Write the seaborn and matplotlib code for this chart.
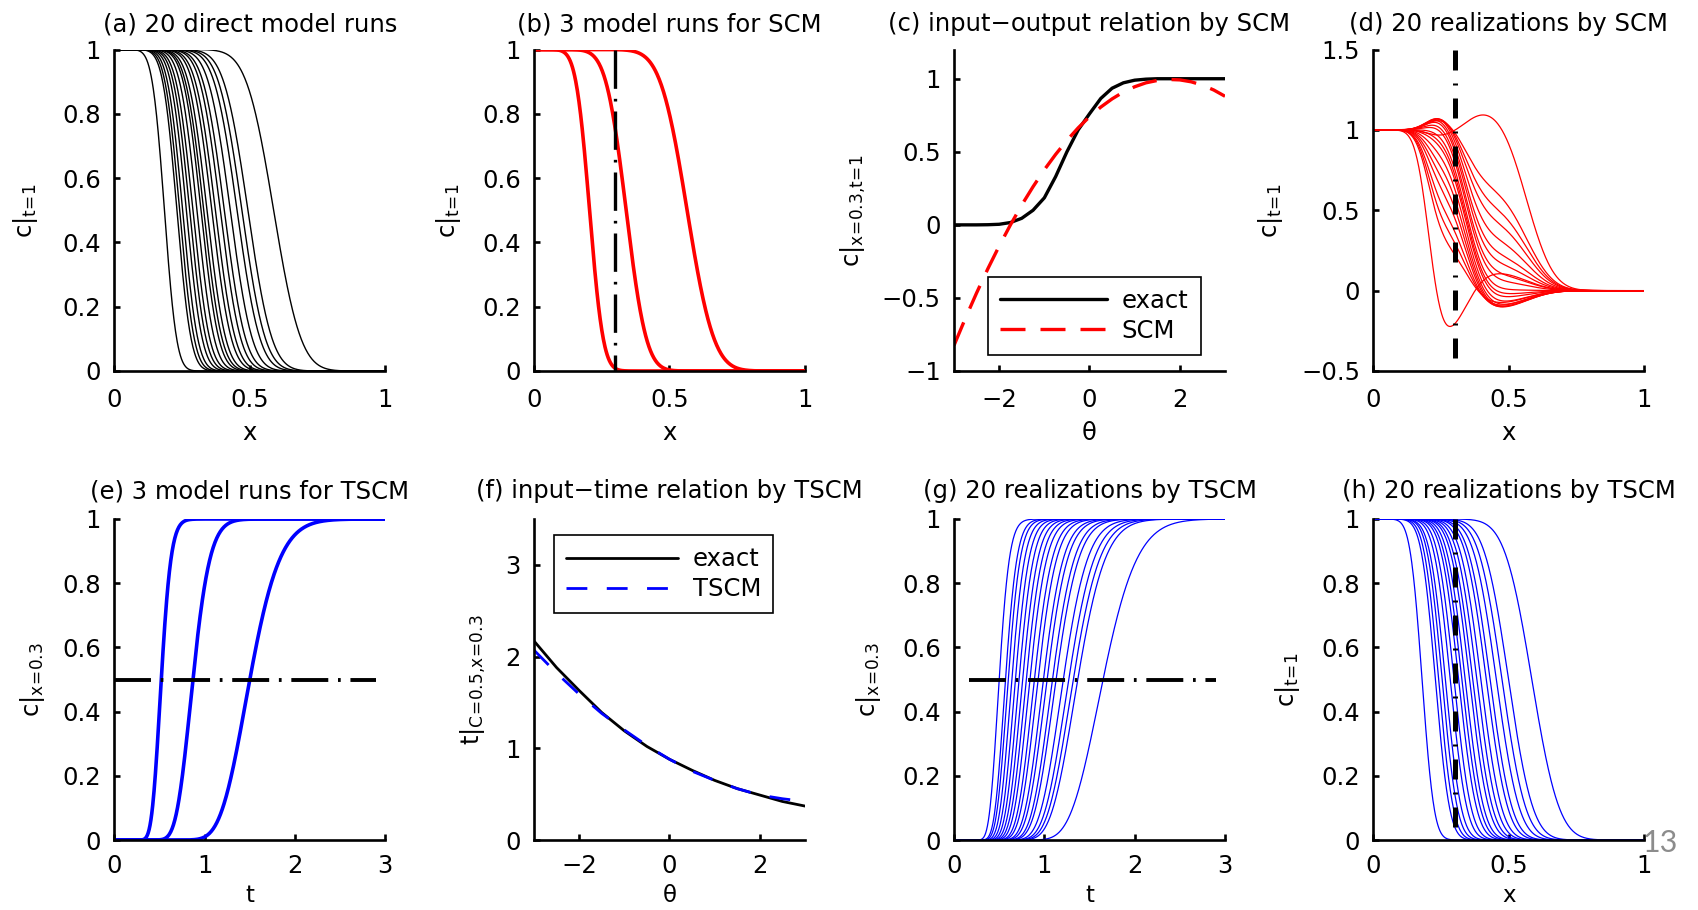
import math
import numpy as np
import pandas as pd
import matplotlib
matplotlib.use("Agg")
import matplotlib.pyplot as plt
import seaborn as sns

# ------------------------------------------------------------------
# Data
# ------------------------------------------------------------------
# (a) 20 direct model runs: front position (c=0.5) at t=1 and front spread
a_mid = [0.185, 0.231, 0.241, 0.252, 0.266, 0.278, 0.290, 0.305, 0.320, 0.330,
         0.342, 0.360, 0.373, 0.391, 0.406, 0.428, 0.453, 0.471, 0.493, 0.588]
a_width = [0.050, 0.058, 0.060, 0.062, 0.065, 0.067, 0.069, 0.071, 0.073, 0.075,
           0.077, 0.080, 0.082, 0.084, 0.087, 0.090, 0.094, 0.096, 0.099, 0.112]

# (b) 3 model runs for SCM
b_mid = [0.205, 0.340, 0.565]
b_width = [0.056, 0.083, 0.110]

# (c) input-output relation
theta_c = [-3.0, -2.75, -2.5, -2.25, -2.0, -1.75, -1.5, -1.25, -1.0, -0.75, -0.5,
           -0.25, 0.0, 0.25, 0.5, 0.75, 1.0, 1.25, 1.5, 1.75, 2.0, 2.25, 2.5,
           2.75, 3.0]
c_exact = [0.0, 0.0, 0.0, 0.001, 0.004, 0.016, 0.045, 0.10, 0.185, 0.33, 0.50,
           0.65, 0.76, 0.865, 0.935, 0.972, 0.99, 0.997, 1.0, 1.0, 1.0, 1.0,
           1.0, 1.0, 1.0]
c_scm = [-0.825, -0.641, -0.466, -0.300, -0.145, 0.000, 0.136, 0.261, 0.377,
         0.482, 0.578, 0.664, 0.740, 0.806, 0.862, 0.909, 0.945, 0.972, 0.988,
         0.995, 0.992, 0.979, 0.956, 0.923, 0.880]

# (d) 20 SCM realizations: weights of the three runs of panel (b)
d_w1 = [1.331, 0.679, 0.573, 0.474, 0.360, 0.279, 0.204, 0.130, 0.064, 0.031,
        -0.006, -0.051, -0.075, -0.101, -0.115, -0.124, -0.122, -0.113, -0.095, 0.050]
d_w2 = [-0.456, 0.410, 0.536, 0.646, 0.765, 0.841, 0.903, 0.954, 0.987, 0.997,
        1.000, 0.987, 0.966, 0.920, 0.872, 0.787, 0.673, 0.574, 0.445, -0.191]
d_w3 = [0.125, -0.089, -0.109, -0.121, -0.125, -0.120, -0.107, -0.084, -0.051, -0.027,
        0.006, 0.064, 0.109, 0.181, 0.243, 0.338, 0.449, 0.539, 0.650, 1.141]

# (e) 3 model runs for TSCM: arrival time (c=0.5) at x=0.3 and spread
e_mid = [0.52, 0.87, 1.50]
e_width = [0.12, 0.21, 0.37]

# (f) input-time relation
theta_f = [-3.0, -2.5, -2.0, -1.5, -1.0, -0.5, 0.0, 0.5, 1.0, 1.5, 2.0, 2.5, 3.0]
f_exact = [2.17, 1.88, 1.63, 1.39, 1.19, 1.02, 0.88, 0.76, 0.65, 0.56, 0.49, 0.42, 0.37]
f_tscm = [2.07, 1.82, 1.59, 1.38, 1.20, 1.03, 0.88, 0.75, 0.65, 0.56, 0.49, 0.45, 0.42]

# (g) 20 TSCM realizations at x=0.3
g_mid = [0.50, 0.57, 0.60, 0.64, 0.68, 0.72, 0.76, 0.80, 0.84, 0.89,
         0.93, 0.99, 1.03, 1.09, 1.13, 1.21, 1.27, 1.32, 1.37, 1.65]
g_width = [0.125, 0.140, 0.148, 0.158, 0.167, 0.177, 0.187, 0.197, 0.207, 0.219,
           0.229, 0.244, 0.253, 0.268, 0.278, 0.298, 0.312, 0.325, 0.337, 0.415]

# (h) 20 TSCM realizations at t=1
h_mid = [0.180, 0.229, 0.241, 0.254, 0.266, 0.284, 0.298, 0.315, 0.327, 0.339,
         0.355, 0.367, 0.382, 0.397, 0.417, 0.431, 0.454, 0.475, 0.499, 0.585]
h_width = [0.049, 0.058, 0.060, 0.062, 0.065, 0.068, 0.070, 0.073, 0.075, 0.076,
           0.079, 0.081, 0.083, 0.085, 0.088, 0.090, 0.094, 0.097, 0.100, 0.112]

# axis ticks / labels
x01_ticks = [0, 0.5, 1]
x01_labels = ["0", "0.5", "1"]
y01_ticks = [0, 0.2, 0.4, 0.6, 0.8, 1]
y01_labels = ["0", "0.2", "0.4", "0.6", "0.8", "1"]
t_ticks = [0, 1, 2, 3]
t_labels = ["0", "1", "2", "3"]
th_ticks = [-2, 0, 2]
th_labels = ["\u22122", "0", "2"]
yc_ticks = [-1, -0.5, 0, 0.5, 1]
yc_labels = ["\u22121", "\u22120.5", "0", "0.5", "1"]
yd_ticks = [-0.5, 0, 0.5, 1, 1.5]
yd_labels = ["\u22120.5", "0", "0.5", "1", "1.5"]
yf_ticks = [0, 1, 2, 3]
yf_labels = ["0", "1", "2", "3"]

titles = ["(a) 20 direct model runs", "(b) 3 model runs for SCM",
          "(c) input\u2212output relation by SCM", "(d) 20 realizations by SCM",
          "(e) 3 model runs for TSCM", "(f) input\u2212time relation by TSCM",
          "(g) 20 realizations by TSCM", "(h) 20 realizations by TSCM"]

lab_ct1 = r"c$|_{t\!=\!1}$"
lab_cx = r"c$|_{x\!=\!0.3}$"
lab_cxt = r"c$|_{x\!=\!0.3{,}t\!=\!1}$"
lab_tcx = r"t$|_{C\!=\!0.5{,}x\!=\!0.3}$"

# ------------------------------------------------------------------
sns.set_theme(style="ticks")
plt.rcParams["font.family"] = ["DejaVu Sans"]
plt.rcParams["mathtext.default"] = "regular"
FS = 17.5

_erfc = np.vectorize(math.erfc)


def front_x(x, m, s):
    return 0.5 * _erfc((x - m) / s)


def front_t(t, m, s):
    tt = np.maximum(t, 1e-9)
    return 0.5 * _erfc((m - tt) / (s * np.sqrt(tt / m)))


xg = np.linspace(0, 1, 501)
tg = np.linspace(0, 3, 601)

fig = plt.figure(figsize=(16.99, 9.10), dpi=100)
W, H = 1699.0, 910.0
lefts = [114.3, 534.0, 954.0, 1373.3]
aw = 271.0
rows = [(49.5, 371.0), (519.0, 840.0)]


def make_ax(col, row):
    top, bot = rows[row]
    return fig.add_axes([lefts[col] / W, 1 - bot / H, aw / W, (bot - top) / H])


def style(ax, xlim, ylim, xt, xl, yt, yl, title, xlabel, ylabel, ylab_x, row):
    ax.set_xlim(*xlim)
    ax.set_ylim(*ylim)
    ax.set_xticks(xt)
    ax.set_xticklabels(xl)
    ax.set_yticks(yt)
    ax.set_yticklabels(yl)
    for s in ["top", "right"]:
        ax.spines[s].set_visible(False)
    for s in ["left", "bottom"]:
        ax.spines[s].set_linewidth(1.9)
        ax.spines[s].set_color("black")
    ax.tick_params(axis="both", direction="in", length=4, width=1.9,
                   labelsize=FS, colors="black")
    ax.tick_params(axis="x", pad=12.5 if row == 0 else 10.0)
    ax.tick_params(axis="y", pad=9.5)
    ax.set_title(title, fontsize=FS, color="black", pad=13.3 if row == 0 else 15.0)
    if row == 0:
        ax.set_xlabel(xlabel, fontsize=FS, color="black")
        ax.xaxis.set_label_coords(0.5, -0.156)
    else:
        ax.set_xlabel(xlabel, fontsize=16.5, color="black")
        ax.xaxis.set_label_coords(0.5, -0.136)
    ax.set_ylabel(ylabel, fontsize=FS, color="black")
    ax.yaxis.set_label_coords(ylab_x, 0.5)
    ax.set_facecolor("white")


def family_df(grid, name, mids, widths, func):
    frames = []
    for i, (m, s) in enumerate(zip(mids, widths)):
        frames.append(pd.DataFrame({name: grid, "c": func(grid, m, s), "run": i}))
    return pd.concat(frames, ignore_index=True)


# ---------------- (a) ----------------
ax = make_ax(0, 0)
df = family_df(xg, "x", a_mid, a_width, front_x)
sns.lineplot(data=df, x="x", y="c", units="run", estimator=None, color="black",
             linewidth=1.0, legend=False, ax=ax)
style(ax, (0, 1), (0, 1), x01_ticks, x01_labels, y01_ticks, y01_labels,
      titles[0], "x", lab_ct1, -0.275, 0)

# ---------------- (b) ----------------
ax = make_ax(1, 0)
b_curves = []
for m, s in zip(b_mid, b_width):
    y = front_x(xg, m, s)
    b_curves.append(y)
    sns.lineplot(x=xg, y=y, color="red", linewidth=2.6, ax=ax)
ax.plot([0.3, 0.3], [1, 0], color="black", linewidth=2.4,
        linestyle=(0, (11.5, 3, 0.8, 3)))
style(ax, (0, 1), (0, 1), x01_ticks, x01_labels, y01_ticks, y01_labels,
      titles[1], "x", lab_ct1, -0.262, 0)

# ---------------- (c) ----------------
ax = make_ax(2, 0)
sns.lineplot(x=theta_c, y=c_exact, color="black", linewidth=2.4, label="exact", ax=ax)
sns.lineplot(x=theta_c, y=c_scm, color="red", linewidth=2.4, label="SCM",
             linestyle=(0, (7.5, 4.5)), ax=ax)
style(ax, (-3, 3), (-1, 1.2), th_ticks, th_labels, yc_ticks, yc_labels,
      titles[2], "\u03b8", lab_cxt, -0.317, 0)
leg = ax.legend(loc="lower left", bbox_to_anchor=(0.126, 0.05), borderaxespad=0,
                fontsize=FS, handlelength=4.4, handletextpad=0.6, borderpad=0.5,
                labelspacing=0.25, fancybox=False, framealpha=1, edgecolor="black")
leg.get_frame().set_linewidth(1.2)
for t in leg.get_texts():
    t.set_color("black")

# ---------------- (d) ----------------
ax = make_ax(3, 0)
frames = []
for i, (w1, w2, w3) in enumerate(zip(d_w1, d_w2, d_w3)):
    y = w1 * b_curves[0] + w2 * b_curves[1] + w3 * b_curves[2]
    frames.append(pd.DataFrame({"x": xg, "c": y, "run": i}))
df = pd.concat(frames, ignore_index=True)
sns.lineplot(data=df, x="x", y="c", units="run", estimator=None, color="red",
             linewidth=0.9, legend=False, ax=ax)
ax.plot([0.3, 0.3], [1.5, -0.5], color="black", linewidth=3.6,
        linestyle=(0, (4, 2.6, 0.4, 2.6)))
style(ax, (0, 1), (-0.5, 1.5), x01_ticks, x01_labels, yd_ticks, yd_labels,
      titles[3], "x", lab_ct1, -0.325, 0)

# ---------------- (e) ----------------
ax = make_ax(0, 1)
for m, s in zip(e_mid, e_width):
    sns.lineplot(x=tg, y=front_t(tg, m, s), color="blue", linewidth=2.6, ax=ax)
ax.plot([0, 2.9], [0.5, 0.5], color="black", linewidth=2.8,
        linestyle=(0, (9.5, 2.5, 0.7, 2.5)))
style(ax, (0, 3), (0, 1), t_ticks, t_labels, y01_ticks, y01_labels,
      titles[4], "t", lab_cx, -0.247, 1)

# ---------------- (f) ----------------
ax = make_ax(1, 1)
sns.lineplot(x=theta_f, y=f_exact, color="black", linewidth=2.0, label="exact", ax=ax)
sns.lineplot(x=theta_f, y=f_tscm, color="blue", linewidth=2.0, label="TSCM",
             linestyle=(0, (7.5, 7)), ax=ax)
style(ax, (-3, 3), (0, 3.5), th_ticks, th_labels, yf_ticks, yf_labels,
      titles[5], "\u03b8", lab_tcx, -0.170, 1)
leg = ax.legend(loc="upper left", bbox_to_anchor=(0.074, 0.95), borderaxespad=0,
                fontsize=FS, handlelength=4.6, handletextpad=0.6, borderpad=0.5,
                labelspacing=0.25, fancybox=False, framealpha=1, edgecolor="black")
leg.get_frame().set_linewidth(1.2)
for t in leg.get_texts():
    t.set_color("black")

# ---------------- (g) ----------------
ax = make_ax(2, 1)
df = family_df(tg, "t", g_mid, g_width, front_t)
sns.lineplot(data=df, x="t", y="c", units="run", estimator=None, color="blue",
             linewidth=0.9, legend=False, ax=ax)
ax.plot([0.17, 2.9], [0.5, 0.5], color="black", linewidth=2.8,
        linestyle=(0, (9.5, 2.5, 0.7, 2.5)))
style(ax, (0, 3), (0, 1), t_ticks, t_labels, y01_ticks, y01_labels,
      titles[6], "t", lab_cx, -0.262, 1)

# ---------------- (h) ----------------
ax = make_ax(3, 1)
df = family_df(xg, "x", h_mid, h_width, front_x)
sns.lineplot(data=df, x="x", y="c", units="run", estimator=None, color="blue",
             linewidth=0.9, legend=False, ax=ax)
ax.plot([0.3, 0.3], [1, 0], color="black", linewidth=3.6,
        linestyle=(0, (4, 2.6, 0.4, 2.6)))
style(ax, (0, 1), (0, 1), x01_ticks, x01_labels, y01_ticks, y01_labels,
      titles[7], "x", lab_ct1, -0.262, 1)

# slide page number
fig.text(1660 / W, 1 - 843 / H, "13", ha="center", va="center", fontsize=22,
         color="#8c8c8c", family=["Lato", "DejaVu Sans"])

fig.savefig("out.png", dpi=100, facecolor="white")
